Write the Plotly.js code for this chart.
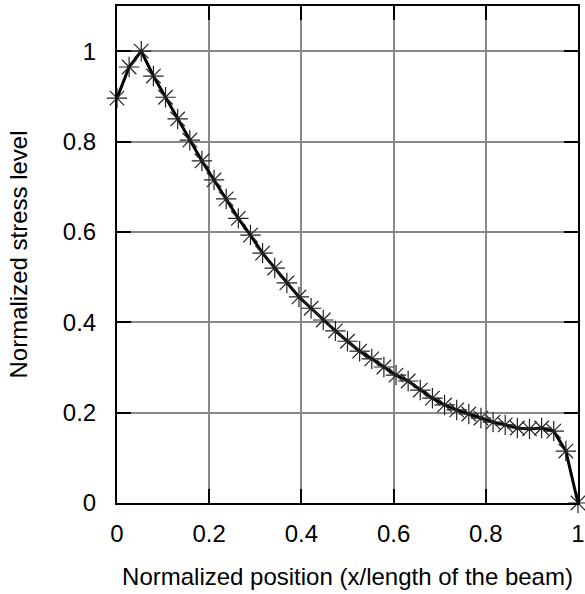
<!DOCTYPE html>
<html>
<head>
<meta charset="utf-8">
<script src="https://cdn.plot.ly/plotly-3.0.1.min.js"></script>
<style>html,body{margin:0;padding:0;background:#fff;}#chart{width:585px;height:594px;}</style>
</head>
<body>
<div id="chart"></div>
<script>
// Normalized stress level at 39 equally spaced positions along the beam
var positionIndex = [0,1,2,3,4,5,6,7,8,9,10,11,12,13,14,15,16,17,18,19,20,21,22,23,24,25,26,27,28,29,30,31,32,33,34,35,36,37,38];
var stressLevel = [0.896,0.965,1.0,0.945,0.898,0.85,0.803,0.757,0.715,0.673,0.63,0.593,0.553,0.52,0.487,0.456,0.431,0.405,0.381,0.358,0.336,0.319,0.301,0.283,0.27,0.25,0.232,0.217,0.206,0.197,0.188,0.179,0.173,0.166,0.164,0.166,0.159,0.115,0.0];
var tickValues = [0,0.2,0.4,0.6,0.8,1];
var tickLabels = ["0","0.2","0.4","0.6","0.8","1"];

var nIntervals = positionIndex.length - 1;
var position = positionIndex.map(function(i){ return i / nIntervals; });

var fontFam = "Liberation Sans, Arial, sans-serif";
var trace = {
  x: position, y: stressLevel, mode: 'lines+markers', type: 'scatter',
  line: {color: '#000', width: 3},
  marker: {symbol: 'asterisk-open', size: 17, color: '#222', line: {color: '#222', width: 1.2}},
  cliponaxis: false, showlegend: false
};
var axisCommon = {
  showline: true, linecolor: '#000', linewidth: 2, mirror: 'ticks',
  ticks: 'inside', ticklen: 14, tickwidth: 2, tickcolor: '#000',
  showgrid: true, gridcolor: '#888', gridwidth: 2, zeroline: false,
  tickfont: {family: fontFam, size: 24, color: '#000'},
  tickvals: tickValues, ticktext: tickLabels
};
var layout = {
  width: 585, height: 594,
  margin: {l: 117, r: 7, t: 6, b: 91},
  paper_bgcolor: '#fff', plot_bgcolor: '#fff',
  xaxis: Object.assign({}, axisCommon, {range: [0, 1], ticklabelstandoff: 8,
    title: {text: 'Normalized position (x/length of the beam)', font: {family: fontFam, size: 24, color: '#000'}, standoff: 22}}),
  yaxis: Object.assign({}, axisCommon, {range: [0, 1.1], ticklabelstandoff: 14,
    title: {text: 'Normalized stress level', font: {family: fontFam, size: 24, color: '#000'}, standoff: 28}})
};
Plotly.newPlot('chart', [trace], layout, {displayModeBar: false, staticPlot: true});
</script>
</body>
</html>
